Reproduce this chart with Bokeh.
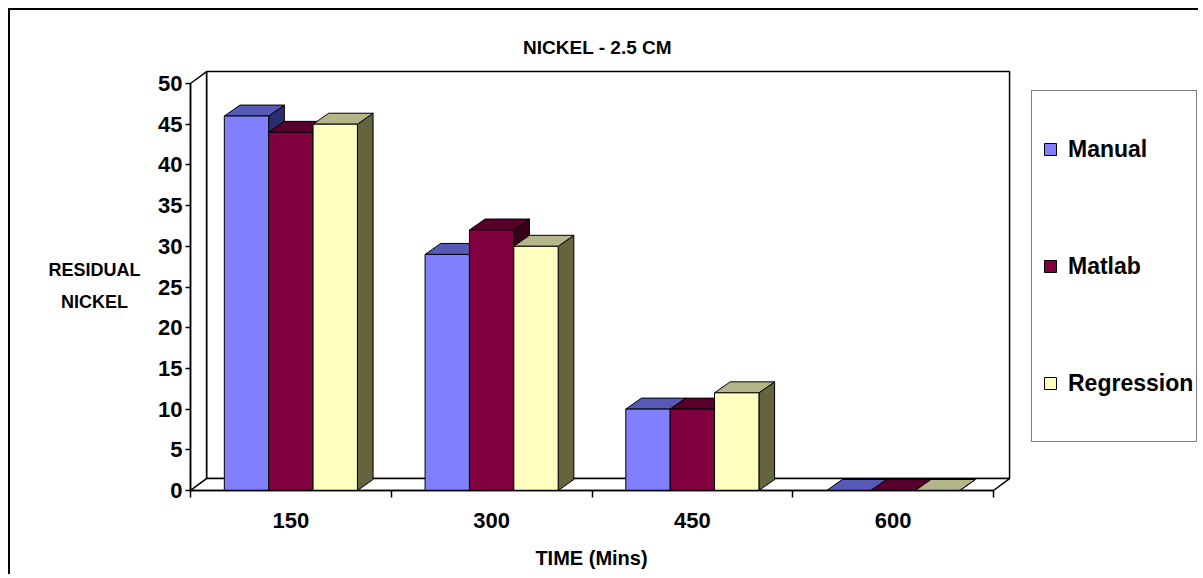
from bokeh.plotting import figure
from bokeh.models import Range1d, FixedTicker, Legend, LegendItem, Label
from bokeh.embed import file_html
from bokeh.resources import INLINE

# ---- data ----
categories = ["150", "300", "450", "600"]
series_names = ["Manual", "Matlab", "Regression"]
manual = [46, 29, 10, 0]
matlab = [44, 32, 10, 0]
regression = [45, 30, 12, 0]
y_ticks = [0, 5, 10, 15, 20, 25, 30, 35, 40, 45, 50]

title_text = "NICKEL - 2.5 CM"
y_title = "RESIDUAL\nNICKEL"
x_title = "TIME (Mins)"

# ---- styles ----
front_colors = ["#8080FF", "#800040", "#FFFFC0"]
top_colors = ["#5659B6", "#57002B", "#B5B58A"]
side_colors = ["#2C2E6E", "#36001A", "#64643F"]
FONT = "Liberation Sans"

values = [manual, matlab, regression]
n_cat = len(categories)
y_max = y_ticks[-1]

# ---- layout (canvas pixels) ----
W, H = 1190, 566
ORIGIN_X, ORIGIN_Y = 180, 480      # canvas px of (x=0, y=0)
PX_X, PX_Y = 200.75, 8.14          # px per data unit
x_range = Range1d(-ORIGIN_X / PX_X, (W - ORIGIN_X) / PX_X)
y_range = Range1d(-(H - ORIGIN_Y) / PX_Y, ORIGIN_Y / PX_Y)

wall_dx, wall_dy = 0.08, 1.47
bar_w, bar_dx, bar_dy = 0.221, 0.078, 1.35

p = figure(width=W, height=H, x_range=x_range, y_range=y_range,
           output_backend="svg", toolbar_location=None,
           min_border=0, min_border_left=0, min_border_right=0, min_border_top=0, min_border_bottom=0,
           background_fill_color="white", border_fill_color="white", outline_line_color=None)
p.styles = {"margin-left": "8px", "margin-top": "8px",
            "border-top": "2px solid black", "border-left": "2px solid black"}
p.xgrid.visible = False
p.ygrid.visible = False

# ---- walls & floor ----
wall_style = dict(fill_color="white", line_color="black", line_width=1.5)
p.patch([wall_dx, n_cat + wall_dx, n_cat + wall_dx, wall_dx],
        [wall_dy, wall_dy, y_max + wall_dy, y_max + wall_dy], **wall_style)
p.patch([0, wall_dx, wall_dx, 0], [0, wall_dy, y_max + wall_dy, y_max], **wall_style)
p.patch([0, n_cat, n_cat + wall_dx, wall_dx], [0, 0, wall_dy, wall_dy], **wall_style)

# ---- 3D bars ----
sides = dict(xs=[], ys=[], c=[])
tops = dict(xs=[], ys=[], c=[])
fronts = dict(xs=[], ys=[], c=[])
for j in range(n_cat):
    for i, vals in enumerate(values):
        v = vals[j]
        x0 = j + 0.5 - 1.5 * bar_w + i * bar_w
        x1 = x0 + bar_w
        fronts["xs"].append([x0, x1, x1, x0]); fronts["ys"].append([0, 0, v, v]); fronts["c"].append(front_colors[i])
        tops["xs"].append([x0, x1, x1 + bar_dx, x0 + bar_dx]); tops["ys"].append([v, v, v + bar_dy, v + bar_dy]); tops["c"].append(top_colors[i])
        sides["xs"].append([x1, x1 + bar_dx, x1 + bar_dx, x1]); sides["ys"].append([0, bar_dy, v + bar_dy, v]); sides["c"].append(side_colors[i])

for d in (sides, tops, fronts):
    p.patches(xs="xs", ys="ys", fill_color="c", line_color="black", line_width=1, source=d)

# ---- axes (fixed at the data origin) ----
yax = p.yaxis[0]
yax.fixed_location = 0
yax.ticker = FixedTicker(ticks=y_ticks, minor_ticks=[])
yax.bounds = (0, y_max)
yax.major_tick_out = 5
yax.major_tick_in = 0
yax.minor_tick_out = 0
yax.minor_tick_in = 0
yax.axis_line_color = "black"
yax.axis_line_width = 1.5
yax.major_tick_line_color = "black"
yax.major_tick_line_width = 1.5
yax.major_label_standoff = 3
yax.major_label_text_font = FONT
yax.major_label_text_font_size = "22px"
yax.major_label_text_font_style = "bold"
yax.major_label_text_color = "black"

xax = p.xaxis[0]
xax.fixed_location = 0
xax.ticker = FixedTicker(ticks=[j + 0.5 for j in range(n_cat)], minor_ticks=list(range(n_cat + 1)))
xax.major_label_overrides = {j + 0.5: c for j, c in enumerate(categories)}
xax.bounds = (0, n_cat)
xax.major_tick_out = 0
xax.major_tick_in = 0
xax.minor_tick_out = 7
xax.minor_tick_in = 0
xax.minor_tick_line_color = "black"
xax.minor_tick_line_width = 1.5
xax.axis_line_color = "black"
xax.axis_line_width = 1.5
xax.major_label_standoff = 15
xax.major_label_text_font = FONT
xax.major_label_text_font_size = "22px"
xax.major_label_text_font_style = "bold"
xax.major_label_text_color = "black"

# ---- titles ----
def px_to_x(px):
    return (px - ORIGIN_X) / PX_X

def px_to_y(py):
    return (ORIGIN_Y - py) / PX_Y

p.add_layout(Label(x=px_to_x(587), y=px_to_y(37), text=title_text, text_align="center",
                   text_baseline="middle", text_font=FONT, text_font_size="19px",
                   text_font_style="bold", text_color="black"))
p.add_layout(Label(x=px_to_x(84), y=px_to_y(275), text=y_title, text_align="center",
                   text_baseline="middle", text_font=FONT, text_font_size="18px",
                   text_font_style="bold", text_color="black", text_line_height=1.6))
p.add_layout(Label(x=px_to_x(581), y=px_to_y(547), text=x_title, text_align="center",
                   text_baseline="middle", text_font=FONT, text_font_size="20px",
                   text_font_style="bold", text_color="black"))

# ---- legend ----
items = []
for i, name in enumerate(series_names):
    r = p.scatter(x=[float("nan")], y=[float("nan")], marker="square", size=12,
                  fill_color=front_colors[i], line_color="black", line_width=1)
    items.append(LegendItem(label=name, renderers=[r]))
legend = Legend(items=items, location=(1021, H - 432), padding=3, spacing=7, margin=0,
                glyph_width=30, glyph_height=110, label_height=110, label_standoff=3,
                label_text_font=FONT, label_text_font_size="23px", label_text_font_style="bold",
                label_text_color="black", border_line_color="black", border_line_width=1.5,
                background_fill_color="white", background_fill_alpha=1.0)
p.add_layout(legend)

open("out.html", "w").write(file_html(p, INLINE))
